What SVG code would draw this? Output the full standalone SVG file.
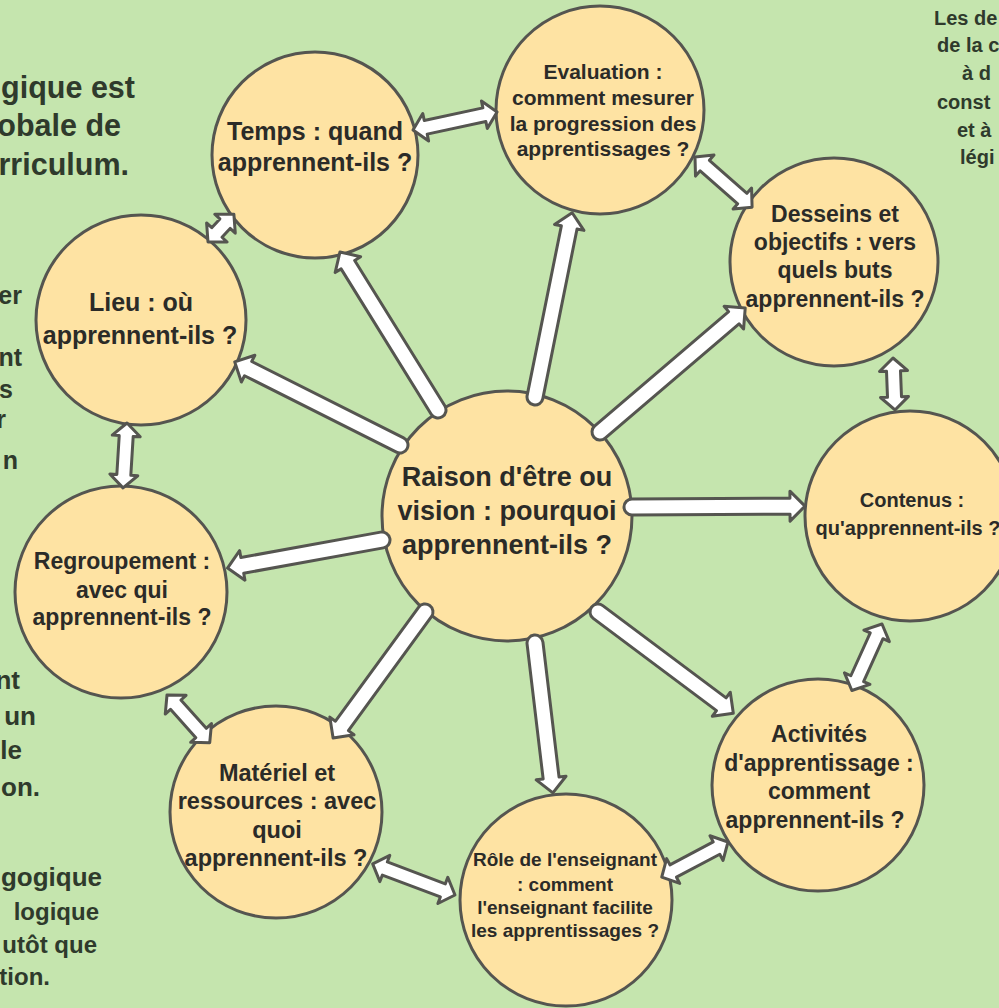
<svg xmlns="http://www.w3.org/2000/svg" width="999" height="1008" viewBox="0 0 999 1008">
<style>
.bg{fill:#c5e5ae}
.node circle{fill:#fee3a3;stroke:#555550;stroke-width:3}
.t{font-family:"Liberation Sans",Arial,sans-serif;font-weight:bold;fill:#2b2b28;text-anchor:middle}
.side{font-family:"Liberation Sans",Arial,sans-serif;font-weight:bold;fill:#2f3a2c}
.arrow{fill:#ffffff;stroke:#555550;stroke-width:3;stroke-linejoin:round}
</style>
<rect class="bg" x="0" y="0" width="999" height="1008"/>

<g id="side-text">
<text class="side" font-size="30.5" text-anchor="end" x="135" y="98">gique est</text>
<text class="side" font-size="30.5" text-anchor="end" x="121" y="136">obale de</text>
<text class="side" font-size="30.5" text-anchor="end" x="129" y="175">rriculum.</text>
<text class="side" font-size="25" text-anchor="end" x="22" y="304">er</text>
<text class="side" font-size="25" text-anchor="end" x="22" y="366">nt</text>
<text class="side" font-size="25" text-anchor="end" x="13" y="398">s</text>
<text class="side" font-size="25" text-anchor="end" x="6" y="428">r</text>
<text class="side" font-size="25" text-anchor="end" x="18" y="469">n</text>
<text class="side" font-size="26" text-anchor="end" x="20" y="689">nt</text>
<text class="side" font-size="26" text-anchor="end" x="36" y="725">un</text>
<text class="side" font-size="26" text-anchor="end" x="22" y="759">le</text>
<text class="side" font-size="26" text-anchor="end" x="40" y="796">on.</text>
<text class="side" font-size="26" text-anchor="end" x="102" y="886">gogique</text>
<text class="side" font-size="24" text-anchor="end" x="99" y="920">logique</text>
<text class="side" font-size="24" text-anchor="end" x="97" y="953">utôt que</text>
<text class="side" font-size="24" text-anchor="end" x="50" y="985">tion.</text>
<text class="side" font-size="20" x="934" y="25">Les de</text>
<text class="side" font-size="20" x="937" y="52">de la c</text>
<text class="side" font-size="20" x="962" y="80">à d</text>
<text class="side" font-size="20" x="937" y="109">const</text>
<text class="side" font-size="20" x="957" y="137">et à</text>
<text class="side" font-size="20" x="960" y="164">légi</text>
</g>

<g id="node-raison" class="node">
<circle cx="507" cy="516" r="125"/>
<text class="t" font-size="27" x="507" y="486">Raison d'être ou</text>
<text class="t" font-size="27" x="507" y="520">vision : pourquoi</text>
<text class="t" font-size="27" x="507" y="554">apprennent-ils ?</text>
</g>
<g id="node-temps" class="node">
<circle cx="315" cy="155" r="103"/>
<text class="t" font-size="25" x="315" y="140">Temps : quand</text>
<text class="t" font-size="25" x="315" y="171">apprennent-ils ?</text>
</g>
<g id="node-evaluation" class="node">
<circle cx="600" cy="110" r="104"/>
<text class="t" font-size="21" x="603" y="79">Evaluation :</text>
<text class="t" font-size="21" x="603" y="105">comment mesurer</text>
<text class="t" font-size="21" x="603" y="131">la progression des</text>
<text class="t" font-size="21" x="603" y="156">apprentissages ?</text>
</g>
<g id="node-desseins" class="node">
<circle cx="834" cy="262" r="104"/>
<text class="t" font-size="23" x="835" y="222">Desseins et</text>
<text class="t" font-size="23" x="835" y="250">objectifs : vers</text>
<text class="t" font-size="23" x="835" y="278">quels buts</text>
<text class="t" font-size="23" x="835" y="307">apprennent-ils ?</text>
</g>
<g id="node-contenus" class="node">
<circle cx="910" cy="516" r="105"/>
<text class="t" font-size="20" x="912" y="507">Contenus :</text>
<text class="t" font-size="20" x="908" y="535">qu'apprennent-ils ?</text>
</g>
<g id="node-activites" class="node">
<circle cx="818" cy="785" r="106"/>
<text class="t" font-size="23" x="819" y="742">Activités</text>
<text class="t" font-size="23" x="819" y="771">d'apprentissage :</text>
<text class="t" font-size="23" x="819" y="799">comment</text>
<text class="t" font-size="23" x="815" y="828">apprennent-ils ?</text>
</g>
<g id="node-role" class="node">
<circle cx="566" cy="900" r="106"/>
<text class="t" font-size="19" x="565" y="866">Rôle de l'enseignant</text>
<text class="t" font-size="19" x="565" y="891">: comment</text>
<text class="t" font-size="19" x="565" y="914">l'enseignant facilite</text>
<text class="t" font-size="19" x="565" y="937">les apprentissages ?</text>
</g>
<g id="node-materiel" class="node">
<circle cx="276" cy="812" r="106"/>
<text class="t" font-size="23.5" x="277" y="781">Matériel et</text>
<text class="t" font-size="23.5" x="277" y="809">ressources : avec</text>
<text class="t" font-size="23.5" x="277" y="838">quoi</text>
<text class="t" font-size="23.5" x="276" y="866">apprennent-ils ?</text>
</g>
<g id="node-regroupement" class="node">
<circle cx="121" cy="592" r="106"/>
<text class="t" font-size="23" x="122" y="569">Regroupement :</text>
<text class="t" font-size="23" x="122" y="598">avec qui</text>
<text class="t" font-size="23" x="122" y="625">apprennent-ils ?</text>
</g>
<g id="node-lieu" class="node">
<circle cx="141" cy="320" r="105"/>
<text class="t" font-size="25" x="141" y="311">Lieu : où</text>
<text class="t" font-size="25" x="140" y="344">apprennent-ils ?</text>
</g>

<g id="connectors">
<path class="arrow" transform="translate(438,410) rotate(-121.8)" d="M0,-8 L171,-8 L171,-15 L186,0 L171,15 L171,8 L0,8 A8,8 0 0 1 0,-8 Z"/>
<path class="arrow" transform="translate(535,397) rotate(-78.6)" d="M0,-8 L173,-8 L173,-15 L188,0 L173,15 L173,8 L0,8 A8,8 0 0 1 0,-8 Z"/>
<path class="arrow" transform="translate(600,432) rotate(-40.5)" d="M0,-8 L176,-8 L176,-15 L191,0 L176,15 L176,8 L0,8 A8,8 0 0 1 0,-8 Z"/>
<path class="arrow" transform="translate(632,507) rotate(-0.3)" d="M0,-8 L158,-8 L158,-15 L173,0 L158,15 L158,8 L0,8 A8,8 0 0 1 0,-8 Z"/>
<path class="arrow" transform="translate(598,612) rotate(36.8)" d="M0,-8 L154,-8 L154,-15 L169,0 L154,15 L154,8 L0,8 A8,8 0 0 1 0,-8 Z"/>
<path class="arrow" transform="translate(535,643) rotate(83.2)" d="M0,-8 L136,-8 L136,-15 L151,0 L136,15 L136,8 L0,8 A8,8 0 0 1 0,-8 Z"/>
<path class="arrow" transform="translate(425,612) rotate(126.1)" d="M0,-8 L141,-8 L141,-15 L156,0 L141,15 L141,8 L0,8 A8,8 0 0 1 0,-8 Z"/>
<path class="arrow" transform="translate(382,540) rotate(169.7)" d="M0,-8 L142,-8 L142,-15 L157,0 L142,15 L142,8 L0,8 A8,8 0 0 1 0,-8 Z"/>
<path class="arrow" transform="translate(400,445) rotate(-153.3)" d="M0,-8 L170,-8 L170,-15 L185,0 L170,15 L170,8 L0,8 A8,8 0 0 1 0,-8 Z"/>

<path class="arrow" transform="translate(413,130) rotate(-12.1)" d="M0,0 L13,-14 L13,-7 L73,-7 L73,-14 L86,0 L73,14 L73,7 L13,7 L13,14 Z"/>
<path class="arrow" transform="translate(695,157) rotate(41.3)" d="M0,0 L13,-14 L13,-7 L63,-7 L63,-14 L76,0 L63,14 L63,7 L13,7 L13,14 Z"/>
<path class="arrow" transform="translate(893,358) rotate(87.8)" d="M0,0 L13,-14 L13,-7 L39,-7 L39,-14 L52,0 L39,14 L39,7 L13,7 L13,14 Z"/>
<path class="arrow" transform="translate(882,624) rotate(114.4)" d="M0,0 L13,-14 L13,-7 L60,-7 L60,-14 L73,0 L60,14 L60,7 L13,7 L13,14 Z"/>
<path class="arrow" transform="translate(728,842) rotate(152.1)" d="M0,0 L13,-14 L13,-7 L62,-7 L62,-14 L75,0 L62,14 L62,7 L13,7 L13,14 Z"/>
<path class="arrow" transform="translate(455,895) rotate(-159.3)" d="M0,0 L13,-14 L13,-7 L75,-7 L75,-14 L88,0 L75,14 L75,7 L13,7 L13,14 Z"/>
<path class="arrow" transform="translate(167,695) rotate(48.1)" d="M0,0 L13,-14 L13,-7 L51,-7 L51,-14 L64,0 L51,14 L51,7 L13,7 L13,14 Z"/>
<path class="arrow" transform="translate(127,423) rotate(93.5)" d="M0,0 L13,-14 L13,-7 L52,-7 L52,-14 L65,0 L52,14 L52,7 L13,7 L13,14 Z"/>
<path class="arrow" transform="translate(208,242) rotate(-47.1)" d="M0,0 L13,-14 L13,-7 L25,-7 L25,-14 L38,0 L25,14 L25,7 L13,7 L13,14 Z"/>
</g>
</svg>
